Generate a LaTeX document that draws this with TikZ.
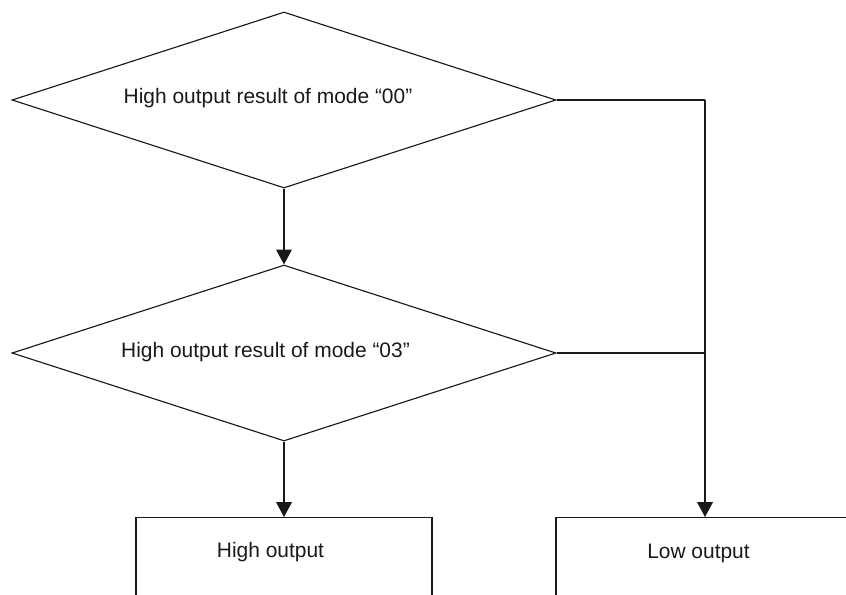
\documentclass[tikz,border=0pt]{standalone}
\usepackage{fontspec}
\setmainfont{Liberation Sans}
\usetikzlibrary{shapes.geometric,arrows.meta}
\begin{document}
\begin{tikzpicture}[x=0.75pt,y=-0.75pt,
  line/.style={draw=black!90, line width=0.85pt},
  arr/.style={line, -{Triangle[width=11.8pt,length=11.2pt]}},
  dec/.style={diamond, line, minimum width=408pt, minimum height=132pt, inner sep=0pt},
  boxnode/.style={rectangle, line, inner sep=0pt, anchor=north},
  lbl/.style={font=\fontsize{15.7pt}{18pt}\selectfont, anchor=base, inner sep=0pt, text=black!90}]
\useasboundingbox (0,0) rectangle (846,594);
\clip (0,0) rectangle (846,594);
\node[dec] (d1) at (284,100) {};
\node[dec] (d2) at (284,353) {};
\node[boxnode, minimum width=222pt, minimum height=100pt] (b1) at (284,517) {};
\node[boxnode, minimum width=243pt, minimum height=100pt] (b2) at (718,517) {};
\node[lbl] (t1) at (268,103) {High output result of mode “00”};
\node[lbl] (t2) at (265.5,357) {High output result of mode “03”};
\node[lbl] (t3) at (270.5,557) {High output};
\node[lbl] (t4) at (698.5,558) {Low output};
\coordinate (j1) at (705,100);
\coordinate (j2) at (705,353);
\draw[arr] (d1.south) -- (d2.north);
\draw[arr] (d2.south) -- (b1.north);
\draw[line] (d1.east) -- (j1);
\draw[arr] (j1) -- (j1 |- b2.north);
\draw[line] (d2.east) -- (j2);
\end{tikzpicture}
\end{document}
